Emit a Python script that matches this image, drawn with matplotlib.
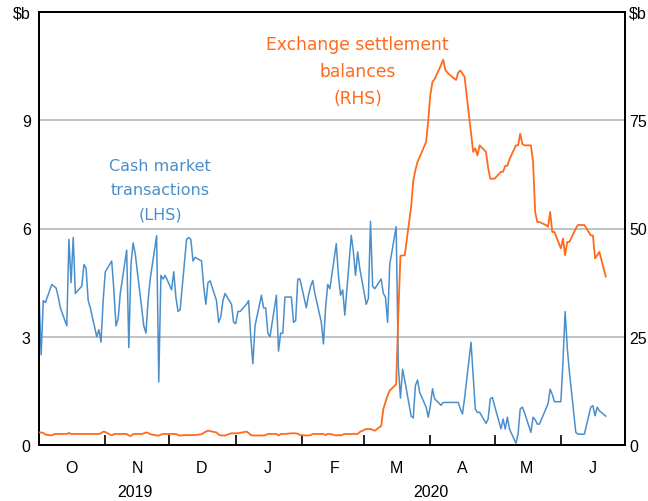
import matplotlib
matplotlib.use('Agg')
import matplotlib.pyplot as plt
import matplotlib.transforms as mtransforms
import pandas as pd

plt.rcParams['font.family'] = ['Liberation Sans', 'DejaVu Sans']

BLUE = '#4a8fcb'
ORANGE = '#ff6a1c'

# cash market transactions, $b (LHS), one value per business day
cash_oct = [4.2, 2.5, 4.0, 3.95, 4.45, 4.4, 4.35, 4.1, 3.8, 3.3, 5.7, 4.5, 5.75,
            4.2, 4.4, 5.0, 4.9, 4.0, 3.8, 3.0, 3.2, 2.85, 4.0]
cash_nov = [4.8, 5.1, 4.3, 3.3, 3.5, 4.2, 5.4, 2.7, 5.0, 5.6, 5.3, 3.8, 3.3, 3.1,
            4.0, 4.6, 5.8, 1.75, 4.7, 4.6, 4.7]
cash_dec = [4.3, 4.8, 4.1, 3.7, 3.75, 5.7, 5.75, 5.7, 5.1, 5.2, 5.1, 4.4, 3.9, 4.5,
            4.55, 4.0, 3.4, 3.55, 4.0, 4.2, 3.9, 3.4]
cash_jan = [3.36, 3.7, 3.7, 3.9, 4.0, 3.0, 2.25, 3.3, 4.15, 3.8, 3.8, 3.1, 3.0,
            4.15, 2.6, 3.1, 3.1, 4.1, 4.1, 3.4, 3.45, 4.6, 4.6]
cash_feb = [3.8, 4.15, 4.4, 4.56, 4.2, 3.4, 2.8, 3.8, 4.45, 4.33, 5.58, 4.7, 4.15,
            4.3, 3.6, 5.81, 5.35, 4.7, 5.35, 4.89]
cash_mar = [3.9, 4.06, 6.2, 4.4, 4.33, 4.6, 4.2, 4.1, 3.4, 5.0, 6.05, 2.2, 1.3, 2.1,
            1.8, 0.8, 0.75, 1.65, 1.8, 1.46, 1.05, 0.77]
cash_apr = [1.09, 1.56, 1.28, 1.1, 1.18, 1.18, 1.18, 1.18, 1.18, 1.18, 1.0, 0.86,
            1.3, 2.85, 1.92, 1.0, 0.9, 0.91, 0.6, 0.72, 1.28, 1.32]
cash_may = [1.09, 0.45, 0.72, 0.44, 0.77, 0.44, 0.05, 0.3, 1.0, 1.05, 0.9, 0.35,
            0.77, 0.7, 0.58, 0.58, 1.0, 1.14, 1.55, 1.4, 1.2]
cash_jun = [1.2, 2.3, 3.7, 2.7, 2.02, 0.35, 0.3, 0.3, 0.3, 0.3, 1.05, 1.09, 0.81,
            1.05, 0.95, 0.8]

# exchange settlement balances, $b (RHS)
esa_oct = [2.9, 2.9, 2.8, 2.4, 2.2, 2.5, 2.55, 2.55, 2.55, 2.55, 2.8, 2.55, 2.55,
           2.55, 2.55, 2.55, 2.55, 2.55, 2.55, 2.55, 2.55, 2.7, 3.1]
esa_nov = [3.0, 2.2, 2.5, 2.55, 2.55, 2.55, 2.55, 2.2, 2.1, 2.5, 2.55, 2.55, 2.7,
           2.9, 2.8, 2.5, 2.2, 2.2, 2.4, 2.55, 2.55]
esa_dec = [2.55, 2.55, 2.55, 2.3, 2.2, 2.3, 2.3, 2.3, 2.3, 2.3, 2.5, 2.8, 3.1, 3.3,
           3.2, 2.9, 2.4, 2.2, 2.2, 2.2, 2.7, 2.7]
esa_jan = [2.7, 2.7, 2.8, 3.1, 2.8, 2.3, 2.2, 2.2, 2.2, 2.2, 2.3, 2.55, 2.55, 2.55,
           2.2, 2.55, 2.55, 2.55, 2.7, 2.7, 2.7, 2.6, 2.3]
esa_feb = [2.2, 2.2, 2.3, 2.55, 2.55, 2.55, 2.55, 2.3, 2.55, 2.55, 2.2, 2.3, 2.2,
           2.4, 2.55, 2.55, 2.55, 2.55, 2.55, 3.0]
esa_mar = [3.7, 3.7, 3.7, 3.5, 3.3, 4.4, 8.3, 9.9, 11.4, 12.6, 14.0, 30.0, 43.7,
           43.8, 43.8, 55.0, 61.0, 63.5, 65.4, 66.5, 70.0, 75.0]
esa_apr = [81.0, 83.9, 84.5, 87.8, 89.0, 86.6, 86.0, 85.5, 84.3, 86.0, 86.5, 85.8,
           85.0, 72.0, 67.7, 68.5, 66.9, 69.2, 67.7, 64.0, 61.5, 61.5]
esa_may = [61.5, 63.1, 63.1, 64.5, 64.5, 66.0, 69.2, 69.2, 71.9, 69.5, 69.2, 69.2,
           65.4, 53.8, 51.5, 51.5, 50.8, 50.4, 53.8, 49.2, 49.2]
esa_jun = [45.4, 47.7, 43.8, 46.9, 46.9, 50.0, 50.8, 50.8, 50.8, 50.8, 48.4, 48.4,
           43.1, 43.8, 44.6, 38.9]

month_starts = ['2019-10-01', '2019-11-01', '2019-12-01', '2020-01-01', '2020-02-01',
                '2020-03-01', '2020-04-01', '2020-05-01', '2020-06-01']
month_labels = ['O', 'N', 'D', 'J', 'F', 'M', 'A', 'M', 'J']
cash_months = [cash_oct, cash_nov, cash_dec, cash_jan, cash_feb, cash_mar, cash_apr, cash_may, cash_jun]
esa_months = [esa_oct, esa_nov, esa_dec, esa_jan, esa_feb, esa_mar, esa_apr, esa_may, esa_jun]


def series(starts, chunks):
    parts = [pd.Series(vals, index=pd.bdate_range(s, periods=len(vals)))
             for s, vals in zip(starts, chunks)]
    return pd.concat(parts)


cash = series(month_starts, cash_months)
esa = series(month_starts, esa_months)

fig = plt.figure(figsize=(6.48, 5.02), dpi=100)
ax = fig.add_axes([39 / 648, 1 - 446 / 502, 586 / 648, 433 / 502])
ax2 = ax.twinx()

ax.plot(cash.index, cash.values, color=BLUE, lw=1.1, zorder=3)
ax2.plot(esa.index, esa.values, color=ORANGE, lw=1.3, zorder=3)

ax.set_xlim(pd.Timestamp('2019-10-01'), pd.Timestamp('2020-07-01'))
ax.set_ylim(0, 12)
ax2.set_ylim(0, 100)

ax.set_yticks([0, 3, 6, 9, 12])
ax.set_yticklabels(['0', '3', '6', '9', '$b'])
ax2.set_yticks([0, 25, 50, 75, 100])
ax2.set_yticklabels(['0', '25', '50', '75', '$b'])
for v in [3, 6, 9]:
    ax.axhline(v, color='#bdbdbd', lw=1.3, zorder=1)

ax.tick_params(axis='y', length=0, pad=6, labelsize=11.5)
ax2.tick_params(axis='y', length=0, pad=3, labelsize=11.5)

# month boundaries as ticks, month letters in between
bounds = pd.to_datetime(month_starts[1:])
ax.set_xticks(bounds)
ax.set_xticklabels([])
mids = pd.to_datetime(month_starts) + pd.Timedelta(days=15)
ax.set_xticks(mids, minor=True)
ax.set_xticklabels(month_labels, minor=True)
ax.tick_params(axis='x', which='major', direction='in', length=7, width=1.2, color='black')
ax.tick_params(axis='x', which='minor', length=0, pad=11, labelsize=11.5)

trans = mtransforms.blended_transform_factory(ax.transData, ax.transAxes)
ax.text(pd.Timestamp('2019-11-15'), -0.108, '2019', transform=trans,
        ha='center', va='center', fontsize=11.5)
ax.text(pd.Timestamp('2020-04-01'), -0.108, '2020', transform=trans,
        ha='center', va='center', fontsize=11.5)

for a in (ax, ax2):
    for sp in a.spines.values():
        sp.set_linewidth(1.4)
        sp.set_color('black')

ax.text(0.544, 0.864, 'Exchange settlement\nbalances\n(RHS)', transform=ax.transAxes,
        ha='center', va='center', color=ORANGE, fontsize=12.3, linespacing=1.65,
        family='DejaVu Sans')
ax.text(0.2065, 0.589, 'Cash market\ntransactions\n(LHS)', transform=ax.transAxes,
        ha='center', va='center', color=BLUE, fontsize=11.5, linespacing=1.75,
        family='DejaVu Sans')

fig.savefig('out.png', dpi=100)
